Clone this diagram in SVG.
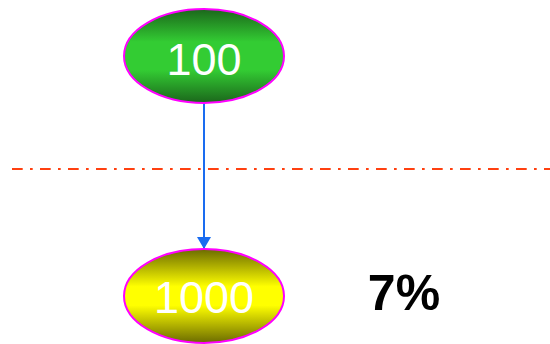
<svg xmlns="http://www.w3.org/2000/svg" width="550" height="344" viewBox="0 0 550 344">
<style>
.node{stroke:#ff00ff;stroke-width:2}
.lbl{font-family:"Liberation Sans",Arial,sans-serif;font-size:45px;fill:#ffffff;text-anchor:middle}
.edge{stroke:#1a6cf0;stroke-width:2;fill:none}
</style>
<defs>
<linearGradient id="g" x1="0" y1="0" x2="0" y2="1">
<stop offset="0" stop-color="#1b661b"/>
<stop offset="0.35" stop-color="#33cc33"/>
<stop offset="0.65" stop-color="#33cc33"/>
<stop offset="1" stop-color="#1b661b"/>
</linearGradient>
<linearGradient id="y" x1="0" y1="0" x2="0" y2="1">
<stop offset="0" stop-color="#6b6b00"/>
<stop offset="0.4" stop-color="#ffff00"/>
<stop offset="0.6" stop-color="#ffff00"/>
<stop offset="1" stop-color="#6b6b00"/>
</linearGradient>
<marker id="arr" markerWidth="12" markerHeight="14" refX="12" refY="7" orient="auto" markerUnits="userSpaceOnUse">
<path d="M0,0 L12,7 L0,14 z" fill="#1a6cf0"/>
</marker>
</defs>
<line x1="12" y1="169" x2="550" y2="169" stroke="#ff4010" stroke-width="2" stroke-dasharray="10.7 7.3 2.7 7.3"/>
<g id="edges">
<line class="edge" x1="204" y1="104" x2="204" y2="249" marker-end="url(#arr)"/>
</g>
<g id="n100">
<ellipse class="node" cx="204" cy="56" rx="80" ry="47" fill="url(#g)"/>
<text class="lbl" x="204" y="75">100</text>
</g>
<g id="n1000">
<ellipse class="node" cx="204" cy="296" rx="80" ry="47" fill="url(#y)"/>
<text class="lbl" x="204" y="313">1000</text>
</g>
<text x="404" y="310" font-family="Liberation Sans,Arial,sans-serif" font-weight="bold" font-size="50" text-anchor="middle" fill="#000">7%</text>
</svg>
